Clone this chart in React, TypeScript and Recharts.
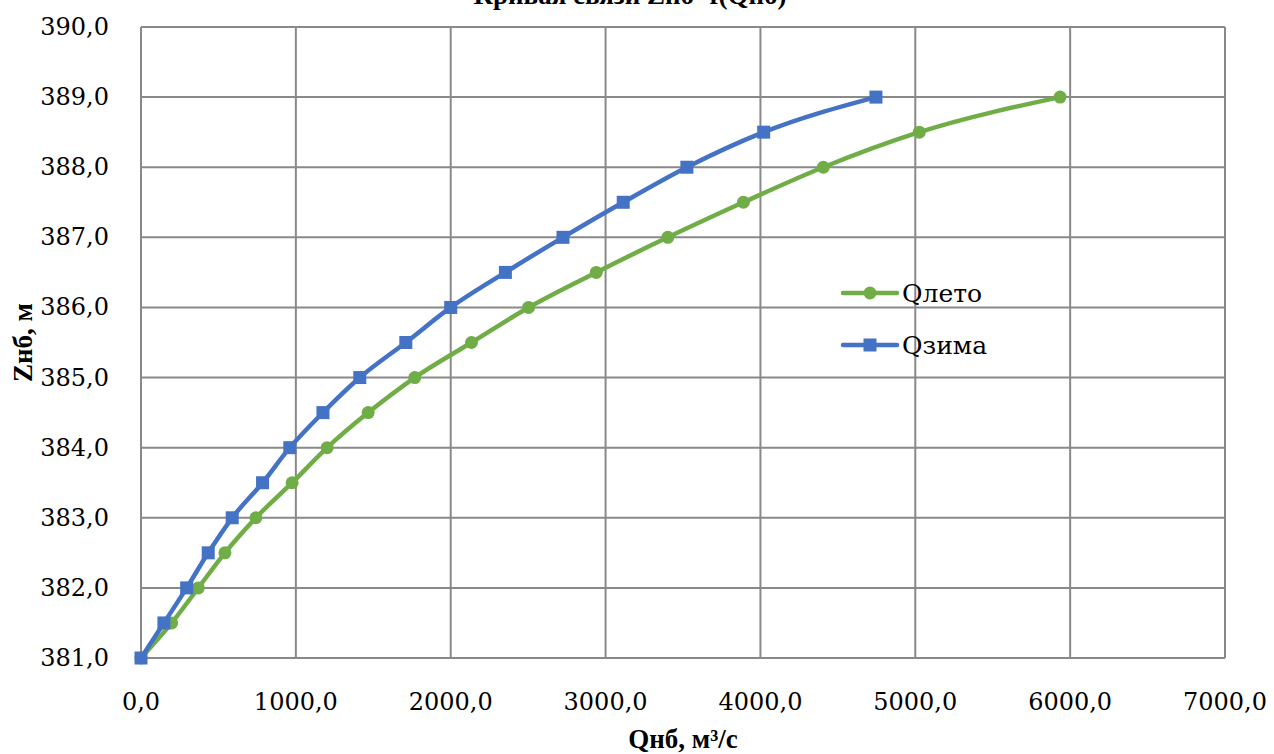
import React from "react";
import { LineChart, Line, XAxis, YAxis, CartesianGrid } from "recharts";

// Zнб, м
const zLevels = [381.0, 381.5, 382.0, 382.5, 383.0, 383.5, 384.0, 384.5, 385.0, 385.5, 386.0, 386.5, 387.0, 387.5, 388.0, 388.5, 389.0];
// Qлето, м3/с
const qLeto = [0, 198, 370, 542, 742, 976, 1202, 1467, 1768, 2134, 2503, 2940, 3402, 3890, 4406, 5026, 5935];
// Qзима, м3/с
const qZima = [0, 148, 295, 434, 589, 785, 961, 1175, 1413, 1710, 2000, 2353, 2725, 3114, 3525, 4021, 4746];

const xTicks = [0, 1000, 2000, 3000, 4000, 5000, 6000, 7000];
const yTicks = [381, 382, 383, 384, 385, 386, 387, 388, 389, 390];

const GREEN = "#70AD47";
const BLUE = "#4472C4";
const GRID = "#898989";
// bold text: Liberation Serif; regular serif only available as DejaVu Serif here
const BOLD_FONT = "'Liberation Serif'";
const FONT = "'DejaVu Serif'";

const letoData = zLevels.map((z, i) => ({ q: qLeto[i], z }));
const zimaData = zLevels.map((z, i) => ({ q: qZima[i], z }));

const fmt = (v: number) => v.toFixed(1).replace(".", ",");

const SquareDot = (props: any) => {
  const { cx, cy, key } = props;
  if (cx == null || cy == null) return null;
  return <rect key={key} x={cx - 6.5} y={cy - 6.5} width={13} height={13} fill={BLUE} />;
};

const CircleDot = (props: any) => {
  const { cx, cy, key } = props;
  if (cx == null || cy == null) return null;
  return <circle key={key} cx={cx} cy={cy} r={6.5} fill={GREEN} />;
};

const Tick = (props: any) => {
  const { x, y, payload, textAnchor, dy } = props;
  return (
    <text
      x={x}
      y={y}
      dy={dy}
      textAnchor={textAnchor}
      fill="#000"
      fontSize={24}
      fontFamily={FONT}
      dominantBaseline="central"
    >
      {fmt(payload.value)}
    </text>
  );
};

const legendItems = [
  { name: "Qлето", color: GREEN, square: false },
  { name: "Qзима", color: BLUE, square: true },
];

export default function App() {
  return (
    <div
      style={{
        position: "absolute",
        left: 0,
        top: 0,
        width: 1274,
        height: 754,
        background: "#fff",
      }}
    >
      <LineChart width={1274} height={754} margin={{ top: 27, right: 49, bottom: 0, left: 0 }}>
        <text x={630} y={4} textAnchor="middle" fontFamily={BOLD_FONT} fontSize={27} fontWeight="bold" fill="#000">
          Кривая связи Zнб=f(Qнб)
        </text>
        <CartesianGrid stroke={GRID} strokeWidth={2} />
        <XAxis
          type="number"
          dataKey="q"
          domain={[0, 7000]}
          ticks={xTicks}
          axisLine={{ stroke: GRID, strokeWidth: 2 }}
          tickLine={false}
          tick={(p: any) => <Tick {...p} dy={24} />}
          tickMargin={14}
          height={96}
          label={{
            value: "Qнб, м³/с",
            position: "insideBottom",
            offset: 6,
            fill: "#000",
            fontSize: 27,
            fontWeight: "bold",
            fontFamily: BOLD_FONT,
          }}
          allowDuplicatedCategory={false}
        />
        <YAxis
          type="number"
          dataKey="z"
          domain={[381, 390]}
          ticks={yTicks}
          axisLine={{ stroke: GRID, strokeWidth: 2 }}
          tickLine={false}
          tick={(p: any) => <Tick {...p} dy={0} />}
          tickMargin={26}
          width={141}
          label={{
            value: "Zнб, м",
            angle: -90,
            position: "insideLeft",
            offset: 22,
            fill: "#000",
            fontSize: 27,
            fontWeight: "bold",
            fontFamily: BOLD_FONT,
            style: { textAnchor: "middle" },
          }}
        />
        <Line
          data={letoData}
          dataKey="z"
          name="Qлето"
          type="monotone"
          stroke={GREEN}
          strokeWidth={4.5}
          dot={CircleDot}
          activeDot={false}
          isAnimationActive={false}
        />
        <Line
          data={zimaData}
          dataKey="z"
          name="Qзима"
          type="monotone"
          stroke={BLUE}
          strokeWidth={4.5}
          dot={SquareDot}
          activeDot={false}
          isAnimationActive={false}
        />
      </LineChart>
      {/* legend */}
      <div style={{ position: "absolute", left: 840, top: 267, fontSize: 25, color: "#000", fontFamily: FONT }}>
        {legendItems.map((s) => (
          <div key={s.name} style={{ display: "flex", alignItems: "center", height: 52 }}>
            <svg width={60} height={20} style={{ marginRight: 2 }}>
              <line x1={3} y1={10} x2={57} y2={10} stroke={s.color} strokeWidth={4.5} strokeLinecap="round" />
              {s.square ? (
                <rect x={23.5} y={3.5} width={13} height={13} fill={s.color} />
              ) : (
                <circle cx={30} cy={10} r={6.5} fill={s.color} />
              )}
            </svg>
            <span>{s.name}</span>
          </div>
        ))}
      </div>
    </div>
  );
}
